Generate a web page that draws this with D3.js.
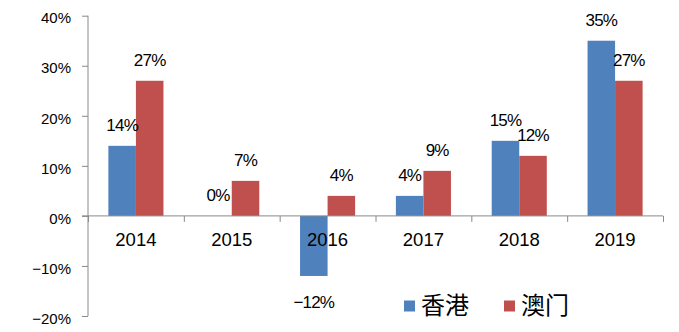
<!DOCTYPE html>
<html>
<head>
<meta charset="utf-8">
<script src="https://cdn.jsdelivr.net/npm/d3@7/dist/d3.min.js"></script>
<style>
  html, body { margin: 0; padding: 0; background: #ffffff; }
  svg { display: block; }
  text { font-family: "Liberation Sans", Arial, sans-serif; fill: #000; }
</style>
</head>
<body>
<svg id="chart" width="679" height="332"></svg>
<script>
const categories = ["2014", "2015", "2016", "2017", "2018", "2019"];
const seriesNames = ["香港", "澳门"];
const hongKong = [14, 0, -12, 4, 15, 35];
const macau = [27, 7, 4, 9, 12, 27];
const yTicks = [-20, -10, 0, 10, 20, 30, 40];
const yTickLabels = ["−20%", "−10%", "0%", "10%", "20%", "30%", "40%"];
const colors = ["#4F81BD", "#C0504D"];

const svg = d3.select("#chart");
const plotLeft = 88, plotRight = 663, plotTop = 15.7, plotBottom = 316;

const y = d3.scaleLinear().domain([-20, 40]).range([plotBottom, plotTop]);
const x0 = d3.scaleBand().domain(categories).range([plotLeft, plotRight]).padding(0);
const x1 = d3.scaleBand().domain(seriesNames).range([0, x0.bandwidth()]).paddingInner(0).paddingOuter(0.74);
const xb = d3.scaleLinear().domain([0, categories.length]).range([plotLeft, plotRight]);

const axisColor = "#8a8a8a";

// Y axis
const yAxis = svg.append("g")
  .attr("transform", `translate(${plotLeft},0)`)
  .call(d3.axisLeft(y).tickValues(yTicks).tickSize(6).tickPadding(11)
    .tickFormat((d, i) => yTickLabels[i]));
yAxis.select(".domain").attr("stroke", axisColor).attr("d", `M0,${y(40)}V${y(-20)}`);
yAxis.selectAll(".tick line").attr("stroke", axisColor);
yAxis.selectAll(".tick text")
  .style("font-family", "'Liberation Sans', Arial, sans-serif")
  .style("font-size", "15px").attr("fill", "#000").attr("dy", "0.48em");

// Bars
const data = [hongKong, macau];
const groups = svg.append("g").selectAll("g")
  .data(categories).join("g")
  .attr("transform", d => `translate(${x0(d)},0)`);

groups.selectAll("rect")
  .data((c, ci) => seriesNames.map((s, si) => ({ s, si, v: data[si][ci] })))
  .join("rect")
  .attr("x", d => x1(d.s))
  .attr("width", x1.bandwidth())
  .attr("y", d => y(Math.max(0, d.v)))
  .attr("height", d => Math.abs(y(d.v) - y(0)))
  .attr("fill", d => colors[d.si]);

// X axis (boundary ticks)
const xAxis = svg.append("g")
  .attr("transform", `translate(0,${y(0)})`)
  .call(d3.axisBottom(xb).tickValues(d3.range(categories.length + 1)).tickSize(6).tickFormat(""));
xAxis.select(".domain").attr("stroke", axisColor).attr("d", `M${plotLeft - 6},0H${plotRight}`);
xAxis.selectAll(".tick line").attr("stroke", axisColor);

// Category labels
svg.append("g").selectAll("text")
  .data(categories).join("text")
  .attr("x", d => x0(d) + x0.bandwidth() / 2)
  .attr("y", y(0) + 30)
  .attr("text-anchor", "middle")
  .style("font-size", "18.5px")
  .text(d => d);

// Value labels
groups.selectAll("text.val")
  .data((c, ci) => seriesNames.map((s, si) => ({ s, si, v: data[si][ci] })))
  .join("text")
  .attr("class", "val")
  .attr("x", d => x1(d.s) + x1.bandwidth() / 2)
  .attr("y", d => d.v >= 0 ? y(d.v) - 15 : y(d.v) + 32)
  .attr("text-anchor", "middle")
  .style("font-size", "17px")
  .style("letter-spacing", "-0.8px")
  .text(d => (d.v < 0 ? "−" + Math.abs(d.v) : d.v) + "%");

// Legend
const legend = svg.append("g");
const legX = [404, 504];
seriesNames.forEach((s, i) => {
  legend.append("rect")
    .attr("x", legX[i]).attr("y", 300.5)
    .attr("width", 11).attr("height", 11)
    .attr("fill", colors[i]);
  legend.append("text")
    .attr("x", legX[i] + 17).attr("y", 314)
    .style("font-family", "'Noto Sans CJK SC', sans-serif")
    .style("font-size", "24px")
    .text(s);
});
</script>
</body>
</html>
